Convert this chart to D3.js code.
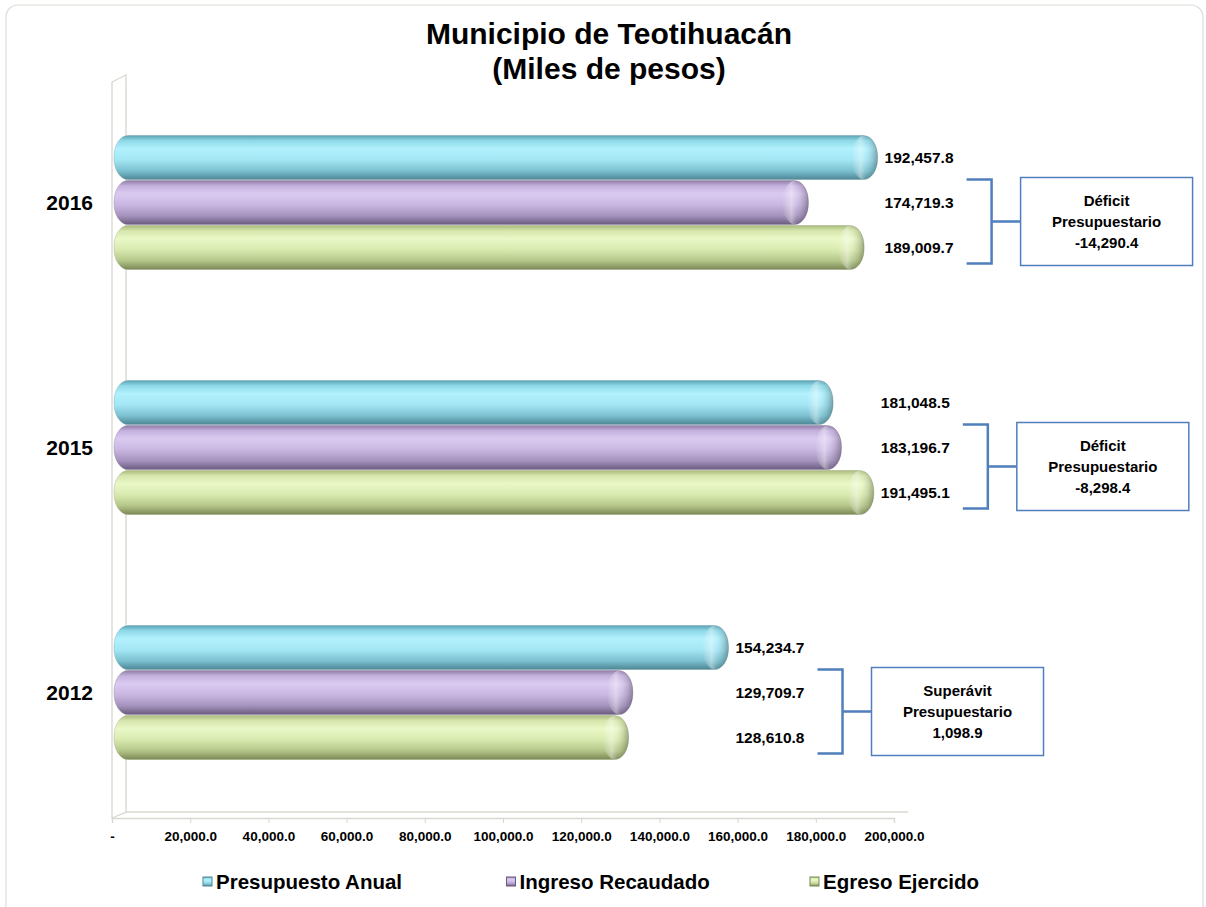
<!DOCTYPE html>
<html><head><meta charset="utf-8">
<script src="https://cdn.jsdelivr.net/npm/d3@7"></script>
<style>body{margin:0;background:#fff}svg{display:block}text{font-family:Arial,"Liberation Sans",sans-serif}</style>
</head><body>
<svg id="c" width="1206" height="907"></svg>
<script>
const years = ["2016", "2015", "2012"];
const seriesNames = ["Presupuesto Anual", "Ingreso Recaudado", "Egreso Ejercido"];
const presupuesto = [192457.8, 181048.5, 154234.7];
const ingreso = [174719.3, 183196.7, 129709.7];
const egreso = [189009.7, 191495.1, 128610.8];
const tickValues = [0, 20000, 40000, 60000, 80000, 100000, 120000, 140000, 160000, 180000, 200000];
const titleLines = ["Municipio de Teotihuacán", "(Miles de pesos)"];

const series = [presupuesto, ingreso, egreso];
const palettes = [
  ["#5aa3b3","#8fd9e8","#b2f1fd","#a4e6f4","#7cc1d0","#4e8796"],
  ["#8e7ca6","#c4b1dd","#dacaf0","#c9b7e2","#a593bd","#6a5b7e"],
  ["#a9ba7c","#d6e6ad","#e9f8c6","#d9eab0","#b5c689","#7b8956"]
];
const fmt = d3.formatLocale({decimal: ".", thousands: ",", grouping: [3], currency: ["$", ""], minus: "-"}).format(",.1f");

const svg = d3.select("#c");
const defs = svg.append("defs");
palettes.forEach((p, i) => {
  const g = defs.append("linearGradient").attr("id", "g" + i).attr("x1", 0).attr("y1", 0).attr("x2", 0).attr("y2", 1);
  [0, 0.12, 0.3, 0.55, 0.8, 1].forEach((o, k) => g.append("stop").attr("offset", o).attr("stop-color", p[k]));
});
const cap = defs.append("linearGradient").attr("id", "cap").attr("x1", 0).attr("x2", 1).attr("y1", 0).attr("y2", 0);
[[0, "#fff", 0], [0.35, "#fff", 0.4], [0.55, "#fff", 0.08], [0.8, "#000", 0.12], [1, "#000", 0.3]].forEach(s =>
  cap.append("stop").attr("offset", s[0]).attr("stop-color", s[1]).attr("stop-opacity", s[2]));

// outer frame
svg.append("rect").attr("x", 6).attr("y", 5).attr("width", 1197).attr("height", 960).attr("rx", 12)
  .attr("fill", "none").attr("stroke", "#dcdcd6").attr("stroke-width", 1.2);

// title
svg.append("g").selectAll("text").data(titleLines).join("text")
  .attr("x", 609).attr("y", (d, i) => 44 + i * 35).attr("text-anchor", "middle")
  .attr("font-size", 30).attr("font-weight", "bold").attr("fill", "#000").text(d => d);

// scales
const xBar = d3.scaleLinear().domain([0, 200000]).range([127, 907]);
const xAx = d3.scaleLinear().domain([0, 200000]).range([112, 894]);
const y = d3.scaleBand().domain(years).range([80, 815]);
const groupH = 134, barH = 44, gap = 1;

// 3D wall and floor
const wall = svg.append("g").attr("fill", "none").attr("stroke", "#d8d8d0").attr("stroke-width", 1.3);
wall.append("path").attr("d", "M112,82 L126,75 L126,812 L112,818 Z");
wall.append("path").attr("d", "M126,812 L908,812");

// axis
const axis = d3.axisBottom(xAx).tickValues(tickValues).tickSize(5)
  .tickFormat(d => d === 0 ? "-" : fmt(d));
const ag = svg.append("g").attr("transform", "translate(0,818)").call(axis);
ag.select(".domain").attr("stroke", "#d8d8d0").attr("stroke-width", 1.3);
ag.selectAll(".tick line").attr("stroke", "#d8d8d0");
ag.selectAll("text").attr("font-size", 13.5).attr("font-weight", "bold").attr("fill", "#000")
  .attr("font-family", "Arial, 'Liberation Sans', sans-serif").attr("dy", "1.1em");

// category labels
svg.append("g").selectAll("text").data(years).join("text")
  .attr("x", 93).attr("y", d => y(d) + y.bandwidth() / 2).attr("dy", "0.35em")
  .attr("text-anchor", "end").attr("font-size", 21).attr("font-weight", "bold").text(d => d);

// bars
const bars = svg.append("g");
years.forEach((yr, gi) => {
  const top = y(yr) + (y.bandwidth() - groupH) / 2;
  const groupMax = d3.max(series, s => xBar(s[gi]));
  series.forEach((s, si) => {
    const by = top + si * (barH + gap);
    const xe = xBar(s[gi]);
    bars.append("rect").attr("x", 114).attr("y", by).attr("width", xe - 114).attr("height", barH)
      .attr("rx", 14).attr("ry", 21).attr("fill", `url(#g${si})`)
      .attr("stroke", palettes[si][5]).attr("stroke-opacity", 0.35).attr("stroke-width", 0.8);
    bars.append("rect").attr("x", xe - 26).attr("y", by).attr("width", 26).attr("height", barH)
      .attr("rx", 14).attr("ry", 21).attr("fill", "url(#cap)");
    bars.append("text").attr("x", groupMax + 7).attr("y", by + barH / 2).attr("dy", "0.35em")
      .attr("font-size", 15.5).attr("font-weight", "bold").text(fmt(s[gi]));
  });
  // annotation
  const diff = ingreso[gi] - egreso[gi];
  const lines = [diff < 0 ? "Déficit" : "Superávit", "Presupuestario", fmt(diff)];
  const bTop = top + barH + gap - 1;
  const bBot = top + 3 * barH + 2 * gap - 6;
  const bMid = (bTop + bBot) / 2;
  const bx = groupMax + 114;
  const ann = svg.append("g").attr("stroke", "#4f7fbc").attr("fill", "none");
  ann.append("path").attr("d", `M${bx - 25},${bTop} H${bx} V${bBot} H${bx - 25} M${bx},${bMid} H${bx + 29}`)
    .attr("stroke-width", 2.5);
  const boxW = 172, boxH = 88;
  ann.append("rect").attr("x", bx + 29).attr("y", bMid - boxH / 2).attr("width", boxW).attr("height", boxH)
    .attr("stroke-width", 1.5).attr("fill", "#fff");
  svg.append("g").selectAll("text").data(lines).join("text")
    .attr("x", bx + 29 + boxW / 2).attr("y", (d, i) => bMid - 21 + i * 21).attr("dy", "0.35em")
    .attr("text-anchor", "middle").attr("font-size", 15).attr("font-weight", "bold").text(d => d);
});

// legend
const lg = svg.append("g").selectAll("g").data(seriesNames).join("g")
  .attr("transform", (d, i) => `translate(${203 + i * 303.5},877)`);
lg.append("rect").attr("width", 9).attr("height", 9).attr("fill", (d, i) => `url(#g${i})`)
  .attr("stroke", (d, i) => palettes[i][5]).attr("stroke-width", 1);
lg.append("text").attr("x", 13).attr("y", 5).attr("dy", "0.36em").attr("font-size", 20.5)
  .attr("font-weight", "bold").text(d => d);
</script>
</body></html>
